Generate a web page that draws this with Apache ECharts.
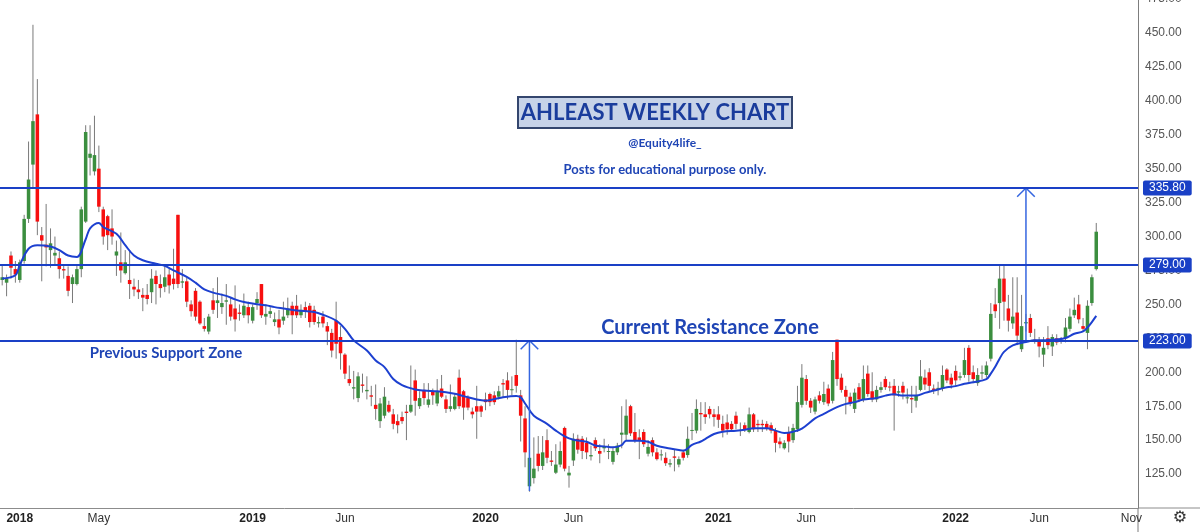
<!DOCTYPE html>
<html>
<head>
<meta charset="utf-8">
<title>AHLEAST weekly</title>
<script src="https://cdn.jsdelivr.net/npm/echarts@6.0.0/dist/echarts.min.js"></script>
<style>
    html, body { margin: 0; padding: 0; background: #fff; }
    #chart { width: 1200px; height: 532px; }
</style>
</head>
<body>
<div id="chart"></div>
<script>
// weekly candles (oldest first)
const opens = [
    268, 266, 286, 276, 268, 282, 313, 353, 390, 301,
    294, 290, 286, 284, 276, 271, 265, 265, 276, 311,
    358, 348, 350, 320, 315, 306, 286, 281, 273, 268,
    263, 261, 257, 257, 259, 271, 265, 263, 272, 269,
    316, 266, 267, 250, 260, 252, 234, 230, 253, 251,
    248, 252, 250, 247, 244, 242, 248, 238, 251, 265,
    241, 243, 237, 239, 238, 242, 249, 249, 242, 248,
    249, 246, 236, 241, 234, 229, 238, 226, 213, 195,
    188, 181, 191, 186, 183, 176, 164, 168, 176, 169,
    164, 167, 171, 171, 194, 175, 187, 176, 186, 177,
    188, 180, 173, 173, 196, 186, 181, 171, 175, 175,
    180, 184, 183, 182, 192, 194, 187, 198, 183, 166,
    116, 122, 140, 131, 150, 135, 126, 132, 159, 124,
    135, 151, 151, 148, 138, 150, 142, 144, 141.5, 134,
    141, 154, 154, 175, 156, 152, 156, 140, 150, 141,
    139, 137, 132, 138, 132, 141, 139, 157, 157, 170,
    169, 173, 169, 169, 162, 163, 162, 168, 157, 161,
    156, 169, 162, 162, 162, 161, 157, 149, 144, 156,
    150, 158, 176, 195, 179, 171, 183, 178, 188, 179,
    224, 196, 187, 182, 173, 189, 180, 199, 186, 180,
    187, 195, 189.5, 190, 185, 190, 181, 181, 179, 187,
    196, 200, 188, 188, 188, 202, 196, 201, 196, 198,
    218, 200, 192, 199, 198, 210, 250, 251, 269, 247,
    236, 244, 217, 236, 240, 224, 223, 213, 225, 219,
    225, 223, 225, 232, 242, 250, 234, 229, 251, 276
];
const closes = [
    270, 269, 277, 272, 281, 313, 342, 385, 311, 297,
    292, 295, 288, 276, 275, 260, 270, 276, 320, 377,
    361, 360, 322, 300, 301, 300, 289, 275, 281, 265,
    261, 259, 255, 254, 269, 265, 262, 270, 264, 265,
    265, 267, 252, 245, 241, 236, 232, 241, 246, 253,
    251, 253, 241, 239, 243, 249, 242, 248, 254, 242,
    243, 245, 239, 233, 241, 247, 242, 242, 246, 245,
    237, 237, 237, 236, 230, 216, 221, 214, 199, 192,
    189, 197, 190, 187, 182, 173, 177, 182, 171, 162,
    161, 164, 170, 176, 179, 181, 181, 180, 183, 186,
    182, 173, 175, 182, 175, 174, 174, 169, 171, 171,
    178, 178, 178, 186, 191, 187, 187.5, 190, 168, 141,
    137, 129, 131, 141, 137, 134, 132, 142, 129, 126,
    151, 143, 142, 141, 139, 144, 140, 145, 142, 142,
    146, 155.5, 168, 155, 150, 150, 147, 145, 141, 136,
    139.5, 133, 133, 137, 136, 137, 151, 157.5, 173, 169,
    167, 169, 167, 165, 157, 158, 158, 162, 157.5, 158,
    169, 158, 161, 161, 159, 157, 148, 147, 148, 149,
    159, 178, 196, 179, 174, 180, 179, 184, 177, 209,
    195, 187, 182, 177, 185, 180, 195, 184, 180, 187,
    189, 189, 189, 183, 186, 185, 181.5, 180, 183, 197,
    191, 190, 187, 188.5, 198, 194, 191, 194, 197, 209,
    198, 195, 198, 200, 205, 243, 245, 269, 252, 238,
    241, 227, 234, 237, 229, 223, 219, 218, 220, 226,
    222, 224, 233, 241, 246, 239, 232, 249, 270, 303.55
];
const lows = [
    264, 256, 269, 266, 266, 280, 310, 336, 301, 267,
    278, 277, 279, 269, 269, 256, 251, 264, 270, 310,
    345, 345, 318, 294, 290, 294, 271, 266, 272, 254,
    256, 254, 245, 250, 251, 250, 255, 259, 258, 261,
    262, 262, 248, 241, 238, 235, 230, 228, 243, 240,
    243, 235, 238, 230, 238, 240, 236, 236, 246, 240,
    235, 240, 234, 228, 235, 240, 228, 240, 240, 240,
    233, 235, 233, 233, 220, 211, 210, 202, 195, 190,
    180, 178, 185, 180, 175, 165, 159, 166, 170, 158,
    155, 162, 150, 170, 168, 173, 176, 174, 176, 175,
    181, 170, 171, 172, 173, 165, 172, 166, 151, 167,
    172, 175, 176, 180, 181, 180, 183, 185, 149, 130,
    112, 118, 127, 128, 133, 131, 125, 130, 127, 115,
    131, 140, 136, 136, 135, 142, 133, 141, 136, 132,
    139, 144, 150, 153, 148, 136, 145, 138, 138, 135,
    135, 131, 130, 127, 130, 135, 137, 150, 155, 157,
    162, 166, 160, 159, 152, 154, 156, 158, 153, 156,
    155, 156, 156, 156, 157, 155, 141, 144, 143, 141,
    148, 156, 174, 176, 170, 169, 177, 176, 175, 177,
    190, 185, 169, 175, 170, 178, 178, 182, 178, 178,
    185, 187, 186, 157, 182, 180, 177, 170, 174, 186,
    187, 186, 184, 183, 186, 192, 188, 190, 194, 196,
    193, 192, 190, 195, 196, 208, 240, 232, 238, 230,
    232, 220, 215, 230, 226, 221, 211, 204, 217, 212,
    220, 221, 222, 230, 240, 236, 230, 217, 249, 275
];
const highs = [
    279, 272, 289, 282, 283, 316, 370, 456, 416, 307,
    324, 306, 300, 289, 279, 278, 272, 279, 322, 382,
    382, 389, 367, 322, 316, 320, 297, 303, 290, 290,
    269, 268, 262, 265, 276, 275, 272, 279, 276, 291,
    316, 276, 270, 253, 262, 253, 240, 243, 262, 270,
    258, 265, 255, 264, 250, 258, 252, 250, 259, 265,
    250, 248, 244, 246, 252, 255, 252, 257, 250, 252,
    251, 249, 241, 245, 237, 232, 252, 234, 214, 205,
    201, 200, 199, 197, 190, 191, 181, 189, 179, 173,
    169, 171, 176, 205, 202, 186, 192, 192, 188, 195,
    198, 183, 191, 184, 202, 187, 183, 174, 190, 176,
    185, 185, 186, 190, 195, 200, 197, 224, 187, 175,
    153, 152, 153, 153, 158, 142, 147, 149, 160, 131,
    155, 154, 153, 152, 146, 152, 147, 151, 147, 145,
    148, 175, 180, 176, 170, 158, 158, 150, 152, 144,
    143, 141, 136, 143, 138, 143, 160, 170, 180, 178,
    178, 175, 173, 175, 168, 169, 164, 171, 163, 163,
    174, 170, 165, 165, 164, 163, 159, 152, 150, 160,
    162, 190, 206, 198, 181, 182, 186, 193, 191, 215,
    224, 199, 190, 185, 188, 192, 205, 205, 200, 190,
    193, 197, 193, 195, 190, 193, 188, 190, 190, 209,
    202, 203, 191, 193, 205, 203, 199, 205, 200, 218,
    220, 205, 203, 205, 208, 251, 262, 279, 279, 257,
    270, 270, 257, 243, 243, 232, 226, 226, 234, 228,
    228, 226, 240, 247, 255, 257, 240, 253, 272, 310
];

// moving average, read at some weeks: [week index, value]
const movingAvg = [
    [0, 269], [3, 271.5], [4, 279], [6, 291], [8, 293.6], [11, 292.6], [13, 290], [15, 286],
    [17, 285], [19, 298], [20, 306], [22, 310], [23, 307], [26, 302], [28, 293.6], [30, 286],
    [32, 282.5], [35, 280], [37, 278.4], [39, 275], [42, 270.3], [44, 266], [46, 261], [48, 258.7],
    [51, 256.3], [53, 253.7], [55, 251.8], [57, 250.6], [60, 249.3], [62, 248], [64, 247], [67, 245.5],
    [71, 244.4], [73, 242.4], [76, 238], [78, 232], [80, 223.5], [83, 216], [85, 208.7], [87, 203.8],
    [89, 195], [91, 190.5], [94, 187.3], [96, 186.5], [99, 186], [101, 185.3], [103, 184.1], [105, 182.4],
    [108, 179.9], [110, 179.1], [112, 180.2], [114, 181.6], [117, 182.5], [118, 181.5], [119, 177], [121, 168],
    [124, 162], [126, 157], [128, 152.8], [130, 150.3], [133, 148.8], [135, 146], [137, 145.4], [139, 144.7],
    [141, 146.4], [142, 149.6], [145, 149.6], [147, 148.8], [149, 145.9], [152, 143.9], [154, 142.7], [155, 142.2],
    [157, 146.5], [159, 149], [160, 150.8], [162, 154.5], [164, 156.2], [167, 157], [169, 157.7], [171, 158.7],
    [174, 158.7], [176, 157], [178, 155.3], [180, 156.2], [182, 158.5], [185, 166], [187, 169.3], [190, 174.3],
    [192, 176.7], [194, 178], [196, 179.9], [199, 181.1], [201, 182.8], [203, 183.8], [205, 182.8], [208, 182.8],
    [210, 184.8], [212, 186.5], [215, 189], [217, 189.8], [219, 191.5], [221, 192.7], [224, 195], [225, 199],
    [226, 204], [227, 210], [228, 215], [230, 219.8], [233, 222.3], [235, 223.5], [237, 223.5], [240, 224.2],
    [242, 225.2], [244, 228.4], [246, 230.1], [247, 233], [248, 237], [249, 241.5]
];

// drawn levels
const levels = [335.8, 279, 223];
const lastPrice = 303.55;
const lastPriceNote = '3d 2h';

// measured moves: [week index, from, to]
const arrows = [
    [119.7, 112.5, 223.4],
    [232.5, 223, 335.8]
];

// x ticks
const WEEKS = 259;
const tickIdx = [4, 22, 57, 78, 110, 130, 163, 183, 217, 236, 257];
const tickText = ['2018', 'May', '2019', 'Jun', '2020', 'Jun', '2021', 'Jun', '2022', 'Jun', 'Nov'];

const weeks = [];
for (let i = 0; i < WEEKS; i++) {
    weeks.push(String(i));
}

const candles = opens.map((o, i) => [i, o, closes[i], lows[i], highs[i]]);

const GREEN = '#3b8e3f';
const RED = '#f70f0f';
const WICK = '#7a7a7a';
const BLUE = '#1a40c6';
const ARROW = '#3566e0';

const renderCandle = (params, api) => {
    const i = api.value(0);
    const o = api.value(1);
    const c = api.value(2);
    const pO = api.coord([i, o]);
    const pC = api.coord([i, c]);
    const pL = api.coord([i, api.value(3)]);
    const pH = api.coord([i, api.value(4)]);
    const w = api.size([1, 0])[0] * 0.8;
    const top = Math.min(pO[1], pC[1]);
    const h = Math.max(Math.abs(pO[1] - pC[1]), 1);
    return {
        type: 'group',
        children: [
            {
                type: 'line',
                shape: { x1: pH[0], y1: pH[1], x2: pL[0], y2: pL[1] },
                style: { stroke: WICK, lineWidth: 1 }
            },
            {
                type: 'rect',
                shape: { x: pO[0] - w / 2, y: top, width: w, height: h },
                style: { fill: c >= o ? GREEN : RED }
            }
        ]
    };
};

// arrow shafts and heads as small line series
const arrowSeries = [];
arrows.forEach(a => {
    arrowSeries.push({
        type: 'line',
        data: [[a[0], a[1]], [a[0], a[2]]],
        showSymbol: false,
        silent: true,
        lineStyle: { color: ARROW, width: 1.5 },
        z: 4
    });
    arrowSeries.push({
        type: 'line',
        data: [[a[0] - 2, a[2] - 6.5], [a[0], a[2]], [a[0] + 2, a[2] - 6.5]],
        showSymbol: false,
        silent: true,
        lineStyle: { color: ARROW, width: 1.5 },
        z: 4
    });
});

const levelLines = levels.map(v => ({
    yAxis: v,
    label: {
        show: true,
        position: 'end',
        distance: 5,
        formatter: v.toFixed(2),
        color: '#fff',
        backgroundColor: BLUE,
        borderRadius: 2,
        padding: [2, 6, 1, 6],
        fontSize: 12,
        fontFamily: 'Liberation Sans'
    }
}));

levelLines.push({
    yAxis: lastPrice,
    lineStyle: { opacity: 0 },
    label: {
        show: true,
        position: 'end',
        distance: 5,
        formatter: lastPrice.toFixed(2) + '\n' + lastPriceNote,
        color: '#fff',
        backgroundColor: '#3d9046',
        borderRadius: 2,
        padding: [3, 6, 2, 6],
        lineHeight: 14,
        offset: [0, 4],
        fontSize: 12,
        fontFamily: 'Liberation Sans'
    }
});

const textStyle = (size) => ({
    fill: '#1f45b5',
    font: 'bold ' + size + 'px Lato',
    textAlign: 'center',
    textVerticalAlign: 'middle'
});

const option = {
    animation: false,
    backgroundColor: '#ffffff',
    grid: { left: 0, right: 62, top: -1, bottom: 24, outerBoundsMode: 'none', containLabel: false },
    xAxis: {
        type: 'category',
        data: weeks,
        boundaryGap: true,
        axisLine: { lineStyle: { color: '#8c8c8c' } },
        axisTick: { show: false },
        axisLabel: {
            interval: idx => tickIdx.indexOf(idx) > -1,
            formatter: (v, idx) => {
                const k = tickIdx.indexOf(idx);
                if (k < 0) {
                    return '';
                }
                const t = tickText[k];
                return /^\d{4}$/.test(t) ? '{b|' + t + '}' : t;
            },
            margin: 5,
            color: '#333',
            fontSize: 12,
            fontFamily: 'Liberation Sans',
            rich: { b: { fontWeight: 'bold', fontSize: 12, color: '#222' } }
        },
        splitLine: { show: false }
    },
    yAxis: {
        type: 'value',
        position: 'right',
        min: 100,
        max: 475,
        interval: 25,
        axisLine: { show: true, lineStyle: { color: '#7d7d7d' } },
        axisTick: { show: false },
        axisLabel: {
            formatter: v => v.toFixed(2),
            color: '#555',
            fontSize: 12,
            margin: 7,
            fontFamily: 'Liberation Sans',
            showMinLabel: false
        },
        splitLine: { show: false }
    },
    series: [
        {
            type: 'custom',
            renderItem: renderCandle,
            data: candles,
            encode: { x: 0, y: [1, 2, 3, 4] },
            clip: true,
            z: 2
        },
        {
            type: 'line',
            data: movingAvg,
            showSymbol: false,
            smooth: 0.35,
            lineStyle: { color: '#1d40d0', width: 2 },
            z: 3
        },
        {
            type: 'line',
            data: [],
            markLine: {
                silent: true,
                symbol: 'none',
                lineStyle: { color: BLUE, width: 1.8, type: 'solid' },
                data: levelLines
            },
            z: 5
        }
    ].concat(arrowSeries),
    graphic: [
        {
            type: 'rect',
            shape: { x: 518, y: 97, width: 274, height: 31 },
            style: { fill: '#c7d3e8', stroke: '#34466e', lineWidth: 2 }
        },
        {
            type: 'text',
            x: 655,
            y: 113,
            style: Object.assign({ text: 'AHLEAST WEEKLY CHART' }, textStyle(22), { fill: '#1a3c9c' })
        },
        {
            type: 'text',
            x: 665,
            y: 143,
            style: Object.assign({ text: '@Equity4life_' }, textStyle(12))
        },
        {
            type: 'text',
            x: 665,
            y: 170,
            style: Object.assign({ text: 'Posts for educational purpose only.' }, textStyle(13))
        },
        {
            type: 'text',
            x: 710,
            y: 328,
            style: Object.assign({ text: 'Current Resistance Zone' }, textStyle(20))
        },
        {
            type: 'text',
            x: 166,
            y: 353,
            style: Object.assign({ text: 'Previous Support Zone' }, textStyle(15))
        },
        {
            type: 'line',
            shape: { x1: 1138, y1: 508, x2: 1200, y2: 508 },
            style: { stroke: '#8c8c8c', lineWidth: 1 }
        },
        {
            type: 'line',
            shape: { x1: 1138, y1: 508, x2: 1138, y2: 532 },
            style: { stroke: '#7d7d7d', lineWidth: 1 }
        },
        {
            type: 'text',
            x: 1180,
            y: 518,
            style: { text: '⚙', font: '16px DejaVu Sans', fill: '#333', textAlign: 'center', textVerticalAlign: 'middle' }
        }
    ]
};

const chart = echarts.init(document.getElementById('chart'));
chart.setOption(option);
</script>
</body>
</html>
